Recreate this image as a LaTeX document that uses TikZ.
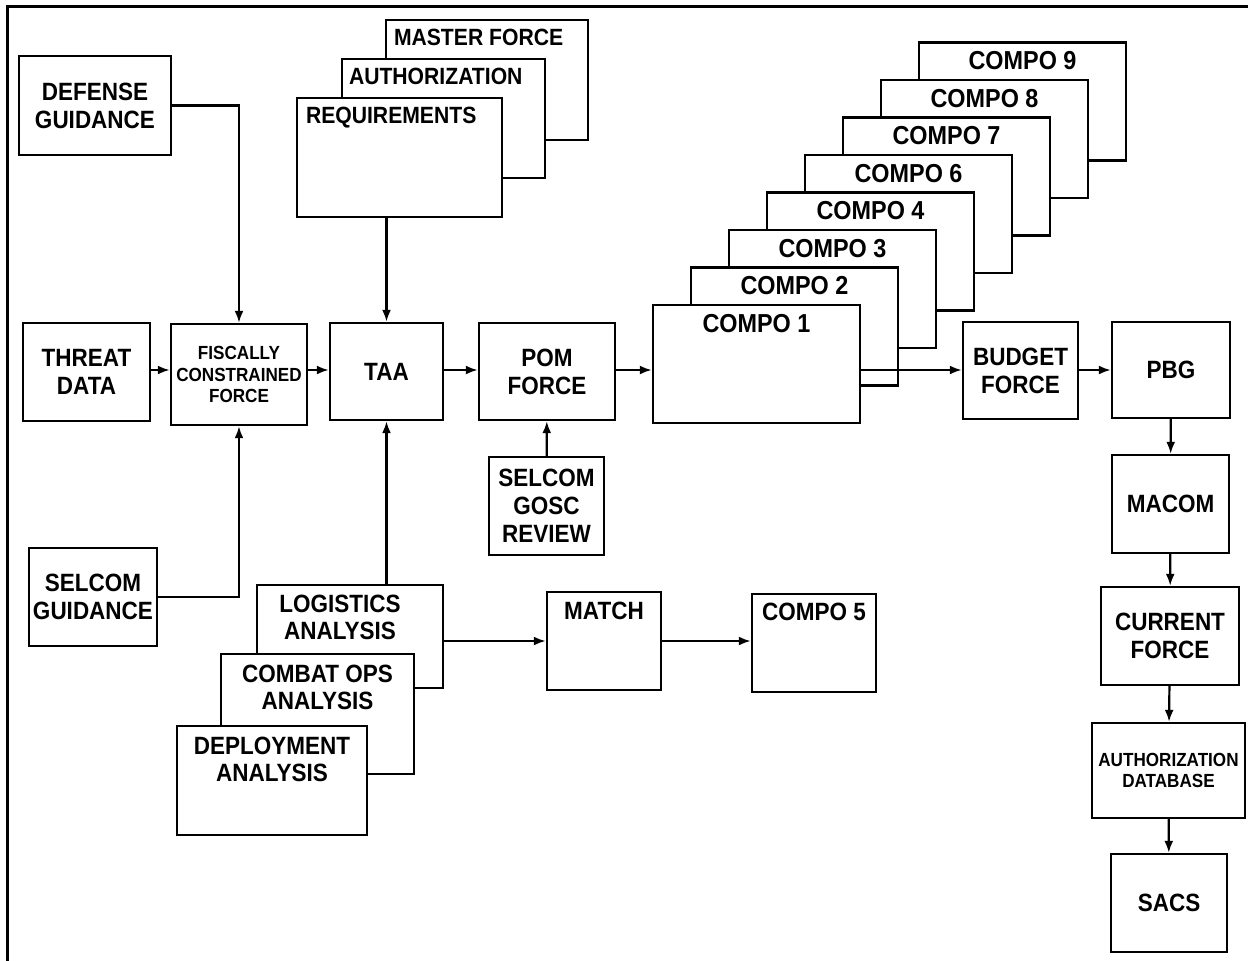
\documentclass[tikz,border=0pt]{standalone}
\usepackage{fontspec}
\setmainfont{Liberation Sans}[FakeStretch=0.9]
\usetikzlibrary{positioning, arrows.meta}

\tikzset{
  blk/.style={draw, line width=2.4pt, fill=white, inner sep=0pt, align=center,
    font=\bfseries\fontsize{25}{28}\selectfont},
  sz/.style 2 args={minimum width=#1pt, minimum height=#2pt},
  ttl/.style={anchor=north, inner sep=0pt, yshift=-10pt, align=center,
    font=\bfseries\fontsize{25}{27}\selectfont},
  small/.style={font=\bfseries\fontsize{19}{21.5}\selectfont},
  flow/.style={line width=2.2pt, -{Latex[length=12pt,width=9pt]}},
}

\begin{document}
\begin{tikzpicture}[x=1pt, y=-1pt]
  \useasboundingbox (0,0) rectangle (1248,961);
  % Frame (cut at right and bottom)
  \draw[line width=3pt] (7,961) -- (7,6) -- (1248,6);
  \coordinate (row) at (0,370);

  % Inputs on the left
  \node[blk, sz={152}{99}] (defense) at (95,105.5) {DEFENSE\\GUIDANCE};
  \node[blk, sz={127}{98}] (threat) at (86.5,372) {THREAT\\DATA};
  \node[blk, small, sz={136}{101}] (fiscal) at (239,374.5) {FISCALLY\\CONSTRAINED\\FORCE};
  \node[blk, sz={128}{98}] (selguid) at (93,597) {SELCOM\\GUIDANCE};

  % Requirements stack
  \node[blk, sz={202}{120}, label={[ttl, anchor=north west, xshift=9pt, font=\bfseries\fontsize{23.5}{26}\selectfont]north west:MASTER FORCE}] (master) at (487,80) {};
  \node[blk, sz={203}{119}, label={[ttl, anchor=north west, xshift=8pt, font=\bfseries\fontsize{23.5}{26}\selectfont]north west:AUTHORIZATION}] (auth) at (443.5,118.5) {};
  \node[blk, sz={205}{119}, label={[ttl, anchor=north west, xshift=10pt, font=\bfseries\fontsize{23.5}{26}\selectfont]north west:REQUIREMENTS}] (req) at (399.5,157.5) {};

  % Main row
  \node[blk, sz={113}{97}] (taa) at (386.5,371.5) {TAA};
  \node[blk, sz={136}{97}] (pom) at (547,371.5) {POM\\FORCE};
  \node[blk, sz={115}{98}] (gosc) at (546.5,506) {SELCOM\\GOSC\\REVIEW};

  % Compo stack
  \foreach \n [count=\i] in {9,8,7,6,4,3,2,1}
    \node[blk, sz={207}{118}, label={[ttl, font=\bfseries\fontsize{26}{28}\selectfont]north:COMPO \n}]
      (compo\n) at ({653+38*(8-\i)+103.5}, {305-37.5*(8-\i)+59}) {};

  \node[blk, sz={115}{97}] (budget) at (1020.5,370.5) {BUDGET\\FORCE};
  \node[blk, sz={118}{96}] (pbg) at (1171,370) {PBG};

  % Right column
  \node[blk, sz={117}{98}] (macom) at (1170.5,504) {MACOM};
  \node[blk, sz={138}{98}] (current) at (1170,636) {CURRENT\\FORCE};
  \node[blk, small, sz={153}{95}] (authdb) at (1168.5,770.5) {AUTHORIZATION\\DATABASE};
  \node[blk, sz={116}{98}] (sacs) at (1169,903) {SACS};

  % Analyses
  \node[blk, sz={186}{103}, label={[ttl, yshift=-1pt, xshift=-10pt]north:{LOGISTICS\\ANALYSIS}}] (logi) at (350,636.5) {};
  \node[blk, sz={193}{120}, label={[ttl, yshift=-2pt]north:{COMBAT OPS\\ANALYSIS}}] (combat) at (317.5,714) {};
  \node[blk, sz={190}{109}, label={[ttl, yshift=-2pt]north:{DEPLOYMENT\\ANALYSIS}}] (deploy) at (272,780.5) {};

  \node[blk, sz={114}{98}, label={[ttl, yshift=-1pt]north:MATCH}] (match) at (604,641) {};
  \node[blk, sz={124}{98}, label={[ttl]north:COMPO 5}] (compo5) at (814,643) {};

  % Connectors
  \draw[flow] (defense.east) -| (fiscal.north);
  \draw[flow] (threat.east |- row) -- (fiscal.west |- row);
  \draw[flow] (selguid.east) -| (fiscal.south);
  \draw[flow] (fiscal.east |- row) -- (taa.west |- row);
  \draw[flow] (req.south -| taa.north) -- (taa.north);
  \draw[flow] (logi.north -| taa.south) -- (taa.south);
  \draw[flow] (taa.east |- row) -- (pom.west |- row);
  \draw[flow] (gosc) -- (pom);
  \draw[flow] (pom.east |- row) -- (compo1.west |- row);
  \draw[flow] (compo1.east |- row) -- (budget.west |- row);
  \draw[flow] (budget.east |- row) -- (pbg.west |- row);
  \draw[flow] (pbg) -- (macom);
  \draw[flow] (macom) -- (current);
  \draw[flow] (current) -- (authdb);
  \draw[flow] (authdb) -- (sacs);
  \draw[flow] (logi.east |- match.west) -- (match.west);
  \draw[flow] (match.east) -- (match.east -| compo5.west);
\end{tikzpicture}
\end{document}
